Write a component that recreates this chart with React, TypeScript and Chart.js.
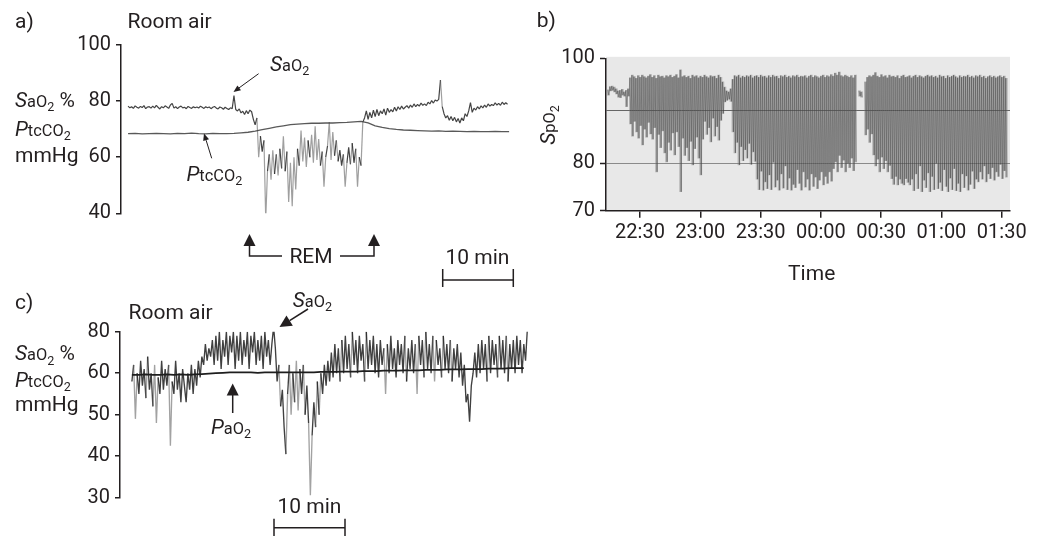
import React, { useEffect, useRef } from 'react';
import { Chart, registerables } from 'chart.js';

Chart.register(...registerables);

// ---------- Panel a (room air, SaO2 and PtcCO2) ----------
const aSaO2Step = 0.25; // minutes between samples
const aSaO2 = [
  78.2, 77.6, 78.0, 77.4, 78.3, 77.8, 77.5, 78.1, 77.7, 78.4, 77.3, 77.9, 78.0, 77.5, 78.2, 77.6, 78.5, 77.8, 77.2, 78.0,
  77.6, 78.3, 77.9, 77.4, 78.6, 79.2, 77.5, 78.0, 77.3, 77.9, 78.2, 77.6, 77.8, 77.3, 78.1, 77.7, 77.4, 78.0, 77.6, 77.9,
  77.5, 78.2, 77.8, 77.4, 78.0, 77.6, 77.9, 77.3, 77.8, 78.1, 77.5, 77.2, 77.9, 77.6, 77.1, 77.8, 77.4, 77.0, 77.6, 77.3,
  82.0, 77.0, 76.5, 77.2, 75.8, 76.4, 75.2, 76.6, 75.5, 76.8, 76.2,
  73.5, 71.5, 74.0, 60.0, 67.5, 62.0, 66.0, 38.0, 55.0, 61.0,
  52.0, 62.5, 54.0, 61.0, 53.5, 63.0, 56.0, 67.5, 55.0, 62.0,
  44.0, 58.0, 42.5, 60.0, 48.5, 63.0, 57.0, 69.5, 58.5, 67.0,
  56.5, 66.0, 60.0, 68.0, 58.0, 71.0, 59.0, 66.5, 57.0, 62.0,
  49.5, 60.0, 64.0, 72.5, 59.0, 69.0, 60.5, 66.0, 58.5, 62.5,
  57.0, 61.0, 49.5, 58.0, 63.5, 57.5, 65.0, 58.0, 63.0, 49.5,
  60.0, 57.0, 72.5,
  74.0, 76.5, 73.5, 76.0, 74.0, 76.8, 74.5, 77.0, 74.8, 76.5,
  75.5, 77.2, 75.0, 77.5, 76.0, 77.0, 76.2, 77.8, 76.5, 78.0,
  77.0, 78.2, 77.2, 77.8, 78.4, 77.5, 78.6, 77.8, 79.0, 78.0,
  78.8, 78.2, 79.3, 78.5, 79.0, 78.4, 79.6, 79.0, 80.2, 79.3,
  80.4, 80.0, 80.6, 87.5, 78.0, 75.5, 74.0, 74.8, 73.2, 74.5,
  73.0, 74.2, 72.6, 73.8, 72.2, 74.0, 73.0, 75.5, 74.5, 76.5,
  79.5, 76.0, 77.5, 76.8, 78.0, 77.2, 78.3, 77.6, 78.6, 77.8,
  79.0, 78.2, 78.8, 78.4, 79.4, 78.6, 79.2, 78.5, 79.6, 78.8,
  79.4, 78.9,
];
const aPtcCO2Step = 1;
const aPtcCO2 = [
  68.4, 68.5, 68.3, 68.4, 68.5, 68.4, 68.3, 68.5, 68.4, 68.6,
  68.4, 68.3, 68.5, 68.4, 68.4, 68.5, 68.7, 68.9, 69.3, 69.8,
  70.3, 70.8, 71.2, 71.6, 71.8, 72.0, 72.1, 72.1, 72.2, 72.2,
  72.3, 72.4, 72.6, 72.8, 72.2, 71.2, 70.6, 70.2, 69.9, 69.7,
  69.6, 69.5, 69.4, 69.3, 69.4, 69.2, 69.3, 69.2, 69.1, 69.2,
  69.1, 69.1, 69.2, 69.1, 69.1,
];
const aYTicks = [40, 60, 80, 100];
const aYTickLabels = ['40', '60', '80', '100'];

// ---------- Panel b (overnight SpO2) ----------
const bStartMin = 14; // minutes after 22:00 of first sample, one high/low pair per minute
const bSpO2High = [
  94.0, 94.6, 94.7, 94.5, 94.2, 93.8, 93.9, 94.1, 93.6, 93.9,
  94.2, 96.3, 96.8, 96.5, 96.2, 96.7, 96.4, 96.8, 96.5, 96.3,
  96.6, 96.9, 96.4, 96.7, 96.2, 96.8, 96.5, 96.6, 96.3, 96.7,
  96.5, 96.8, 96.4, 96.6, 96.9, 96.3, 97.8, 96.5, 96.7, 96.4,
  96.6, 96.2, 96.8, 96.5, 96.7, 96.3, 96.6, 96.4, 96.8, 96.5,
  96.3, 96.7, 96.5, 96.6, 96.2, 96.8, 96.4, 95.5, 94.5, 93.8,
  93.6, 94.2, 96.0, 96.7, 96.5, 96.8, 96.3, 96.6, 96.4, 96.7,
  96.5, 96.8, 96.3, 96.6, 96.7, 96.4, 96.8, 96.5, 96.6, 96.3,
  96.7, 96.4, 96.8, 96.5, 96.6, 96.2, 96.7, 96.5, 96.8, 96.4,
  96.6, 96.3, 96.7, 96.5, 96.8, 96.4, 96.6, 96.5, 96.7, 96.3,
  96.6, 96.8, 96.4, 96.7, 96.5, 96.3, 96.6, 96.8, 96.4, 96.7,
  96.5, 96.9, 96.6, 97.2, 96.8, 97.4, 96.7, 96.5, 96.8, 96.6,
  96.4, 96.7, 96.3, 96.8, null, 93.8, 93.6, null, 95.5, 96.4,
  96.7, 96.5, 96.8, 97.3, 96.6, 96.4, 96.9, 96.5, 96.7, 96.3,
  96.8, 96.5, 96.6, 96.4, 96.7, 96.2, 96.6, 96.8, 96.4, 96.5,
  96.7, 96.3, 96.6, 96.8, 96.4, 96.7, 96.5, 96.3, 96.6, 96.8,
  96.5, 96.7, 96.4, 96.6, 96.3, 96.8, 96.5, 96.6, 96.2, 96.7,
  96.4, 96.6, 96.8, 96.5, 96.3, 96.7, 96.4, 96.6, 96.5, 96.8,
  96.4, 96.6, 96.3, 96.7, 96.5, 96.8, 96.4, 96.6, 96.2, 96.5,
  96.7, 96.4, 96.6, 96.3, 96.5, 96.7, 96.4, 96.6, 96.2,
];
const bSpO2Low = [
  93.0, 93.8, 93.9, 93.6, 93.2, 92.6, 92.5, 93.0, 92.8, 90.8,
  92.8, 87.5, 85.2, 88.0, 86.0, 84.8, 87.2, 83.5, 86.5, 85.0,
  87.8, 85.6, 84.6, 86.8, 78.4, 85.5, 83.0, 86.2, 82.0, 80.3,
  84.0, 82.5, 85.8, 81.6, 86.0, 83.2, 74.6, 84.8, 81.5, 83.0,
  80.5, 84.2, 79.7, 82.8, 85.0, 81.0, 77.8, 84.6, 88.0, 85.5,
  86.8, 84.1, 88.6, 85.2, 87.0, 84.4, 88.2, 89.5, 91.7, 92.0,
  92.2, 91.8, 86.0, 82.0, 84.0, 79.7, 83.2, 80.5, 82.6, 81.0,
  83.8, 79.8, 82.2, 80.4, 77.0, 75.0, 78.5, 74.9, 76.5, 75.2,
  77.8, 75.0, 80.2, 75.5, 76.8, 74.9, 78.0, 75.3, 79.5, 75.0,
  77.2, 74.9, 76.0, 75.4, 78.8, 76.2, 74.9, 78.4, 75.5, 77.0,
  74.9, 78.0, 75.6, 77.4, 75.2, 76.8, 78.4, 75.9, 77.5, 76.2,
  78.4, 76.6, 79.0, 80.3, 78.4, 81.5, 79.2, 80.6, 78.4, 80.0,
  79.2, 81.0, 78.6, 80.3, null, 92.8, 92.6, null, 85.4, 86.5,
  84.0, 85.6, 81.6, 79.5, 80.8, 78.4, 81.2, 79.0, 80.5, 78.4,
  79.6, 77.1, 76.0, 77.5, 75.9, 77.0, 76.2, 75.9, 77.1, 76.4,
  75.9, 77.0, 74.8, 78.0, 75.2, 79.5, 74.6, 76.8, 75.4, 78.2,
  74.6, 77.5, 75.0, 80.0, 75.2, 76.4, 74.8, 78.8, 75.6, 74.6,
  77.2, 75.0, 79.0, 74.8, 76.2, 74.6, 78.0, 75.4, 77.6, 74.9,
  76.0, 78.5, 75.2, 77.0, 76.5, 78.4, 77.0, 79.5, 76.5, 78.0,
  77.1, 79.2, 76.8, 78.4, 77.5, 79.8, 77.1, 78.6, 77.4,
];
const bXTicks = [30, 60, 90, 120, 150, 180, 210];
const bXTickLabels = ['22:30', '23:00', '23:30', '00:00', '00:30', '01:00', '01:30'];
const bYTicks = [71, 80, 90, 100];
const bYTickLabels = ['70', '80', '', '100'];

// ---------- Panel c (room air, SaO2 and PaO2) ----------
const cSaO2Step = 0.25;
const cSaO2 = [
  58, 62, 49, 60, 55, 63, 57, 61, 54, 64, 56, 60, 52, 62, 48, 59, 55, 63, 56, 61,
  57, 62, 42.5, 58, 55, 63, 56, 60, 53, 61, 57, 53, 60, 56, 62, 55, 61, 57, 63, 59,
  64, 62, 67, 63, 66, 64, 68, 62, 69, 63, 70, 61, 68, 64, 70, 62, 69, 65, 70, 61,
  69, 63, 70, 62, 68, 64, 70, 61, 69, 65, 70, 62, 68, 63, 69, 61, 70, 64, 68, 62,
  67, 71.2, 66, 58, 62, 52, 56, 47, 40.5, 55, 62, 50, 60, 53, 63, 51, 61, 55, 62, 50,
  57, 48, 30.6, 45, 53, 47, 58, 50, 60, 55, 62, 57, 63, 58, 65, 59, 67, 60, 66, 58,
  68, 60, 69, 61, 67, 59, 70, 62, 68, 60, 69, 63, 67, 58, 70, 61, 68, 62, 69, 60,
  67, 59, 68, 62, 66, 55, 67, 60, 69, 61, 66, 59, 68, 62, 67, 60, 69, 58, 66, 61,
  68, 60, 67, 55, 69, 62, 68, 59, 70, 61, 67, 60, 69, 58, 68, 62, 66, 59, 69, 61,
  67, 60, 68, 58, 66, 61, 67, 59, 65, 57, 62, 53, 55, 48.3, 57, 60, 65, 59, 67, 60,
  68, 61, 67, 58, 69, 60, 68, 62, 67, 59, 69, 61, 68, 60, 69, 58, 67, 61, 68, 60,
  69, 62, 68, 60, 67, 63, 70.4,
];
const cPaO2Step = 1;
const cPaO2 = [
  59.6, 59.6, 59.7, 59.6, 59.6, 59.7, 59.6, 59.7, 59.6, 59.7,
  59.8, 59.9, 60.0, 60.1, 60.2, 60.2, 60.2, 60.2, 60.1, 60.2,
  60.2, 60.2, 60.2, 60.2, 60.2, 60.2, 60.2, 60.3, 60.3, 60.3,
  60.4, 60.4, 60.4, 60.5, 60.5, 60.5, 60.6, 60.6, 60.6, 60.7,
  60.7, 60.7, 60.8, 60.8, 60.8, 60.9, 60.9, 60.9, 61.0, 61.0,
  61.0, 61.1, 61.1, 61.1, 61.2, 61.2, 61.2,
];
const cYTicks = [30, 40, 50, 60, 70];
const cYTickLabels = ['30', '40', '50', '60', '80'];

// ---------- helpers ----------
const INK = '#231f20';
const FONT = 'Roboto, "Noto Sans", Arial, sans-serif';

const series = (vals: (number | null)[], step: number, start = 0) =>
  vals.map((v, i) => ({ x: start + i * step, y: v }));

const bZigzag = (() => {
  const pts: { x: number; y: number | null }[] = [];
  bSpO2High.forEach((h, i) => {
    pts.push({ x: bStartMin + i, y: h });
    pts.push({ x: bStartMin + i + 0.5, y: bSpO2Low[i] });
  });
  return pts;
})();
const bRanges = bSpO2High.map((h, i) => ({
  x: bStartMin + i + 0.25,
  y: h == null || bSpO2Low[i] == null ? null : [bSpO2Low[i] as number, h],
}));

// fast pen movements leave a lighter trace
const penSegment = (limit: number, light: string) => ({
  borderColor: (ctx: any) => (Math.abs(ctx.p1.parsed.y - ctx.p0.parsed.y) > limit ? light : undefined),
});

const yAxis = (min: number, max: number, ticks: number[], labels: string[], width: number) => ({
  type: 'linear',
  position: 'left',
  min,
  max,
  afterBuildTicks: (s: any) => {
    s.ticks = ticks.map((v) => ({ value: v }));
  },
  afterFit: (s: any) => {
    s.width = width;
  },
  ticks: {
    callback: (_v: any, i: number) => labels[i],
    font: { family: FONT, size: 20 },
    color: INK,
    padding: 5,
    autoSkip: false,
    maxRotation: 0,
  },
  grid: { drawOnChartArea: false, tickLength: 5, color: INK, lineWidth: 1.5 },
  border: { display: true, color: INK, width: 1.5 },
});

const baseOpts = {
  responsive: false,
  maintainAspectRatio: false,
  animation: false,
  events: [],
  plugins: { legend: { display: false }, tooltip: { enabled: false } },
  elements: { point: { radius: 0 }, line: { tension: 0, borderJoinStyle: 'bevel' } },
};

const bgPlugin = {
  id: 'plotBg',
  beforeDraw(chart: any) {
    const { ctx, chartArea: a } = chart;
    ctx.save();
    ctx.fillStyle = '#e8e8e8';
    ctx.fillRect(a.left, a.top - 1.5, a.right - a.left, a.bottom - a.top + 1.5);
    ctx.restore();
  },
};

const Sm = ({ children }: any) => <span style={{ fontSize: '0.78em' }}>{children}</span>;
const Sub = ({ children }: any) => (
  <span style={{ fontSize: '0.6em', position: 'relative', top: '0.35em' }}>{children}</span>
);
const SaO2 = () => (<><i>S</i><Sm>aO</Sm><Sub>2</Sub></>);
const PtcCO2 = () => (<><i>P</i><Sm>tcCO</Sm><Sub>2</Sub></>);
const PaO2 = () => (<><i>P</i><Sm>aO</Sm><Sub>2</Sub></>);
const SpO2 = () => (<><i>S</i><Sm>pO</Sm><Sub>2</Sub></>);

const T = ({ x, y, size = 21, center = false, rotate = false, children }: any) => (
  <div
    style={{
      position: 'absolute',
      left: x,
      top: y,
      transform: `translate(${center ? '-50%' : '0'}, -50%)${rotate ? ' rotate(-90deg)' : ''}`,
      fontSize: size,
      lineHeight: 1,
      whiteSpace: 'nowrap',
      color: INK,
      fontFamily: FONT,
    }}
  >
    {children}
  </div>
);

export default function App() {
  const aRef = useRef<HTMLCanvasElement>(null);
  const bRef = useRef<HTMLCanvasElement>(null);
  const cRef = useRef<HTMLCanvasElement>(null);

  useEffect(() => {
    const charts: Chart[] = [];

    charts.push(
      new Chart(aRef.current as HTMLCanvasElement, {
        type: 'line',
        data: {
          datasets: [
            { data: series(aPtcCO2, aPtcCO2Step), borderColor: 'rgba(60,60,60,0.85)', borderWidth: 1.3 },
            {
              data: series(aSaO2, aSaO2Step),
              borderColor: 'rgba(35,35,35,0.85)',
              borderWidth: 1.2,
              segment: penSegment(7, 'rgba(95,95,95,0.6)'),
            },
          ],
        },
        options: {
          ...baseOpts,
          layout: { padding: { left: 0, top: 45, right: 10.7, bottom: 26.7 } },
          scales: {
            x: { type: 'linear', display: false, min: -1, max: 54 },
            y: yAxis(40, 100, aYTicks, aYTickLabels, 121),
          },
        } as any,
      })
    );

    const bY: any = yAxis(71, 100, bYTicks, bYTickLabels, 86);
    bY.grid = {
      drawOnChartArea: true,
      tickLength: 6,
      lineWidth: 1,
      tickWidth: 1.5,
      color: (ctx: any) =>
        ctx.tick && ctx.tick.value === 90 ? '#666666' : ctx.tick && ctx.tick.value === 80 ? '#8a8a8a' : 'rgba(0,0,0,0)',
      tickColor: (ctx: any) => (ctx.tick && ctx.tick.value === 90 ? 'rgba(0,0,0,0)' : INK),
    };
    charts.push(
      new Chart(bRef.current as HTMLCanvasElement, {
        type: 'line',
        data: {
          datasets: [
            {
              type: 'line',
              data: bZigzag,
              borderColor: 'rgba(45,45,45,0.42)',
              borderWidth: 0.8,
              spanGaps: false,
              order: 0,
            },
            {
              type: 'bar',
              data: bRanges,
              backgroundColor: 'rgba(115,115,115,0.45)',
              borderWidth: 0,
              barThickness: 2.05,
              grouped: false,
              order: 1,
            },
          ] as any,
        },
        options: {
          ...baseOpts,
          layout: { padding: { left: 0, top: 58.3, right: 31, bottom: 49.3 } },
          scales: {
            x: {
              type: 'linear',
              offset: false,
              min: 13.1,
              max: 214.1,
              afterBuildTicks: (s: any) => {
                s.ticks = bXTicks.map((v) => ({ value: v }));
              },
              afterFit: (s: any) => {
                s.height = 40;
              },
              ticks: {
                callback: (_v: any, i: number) => bXTickLabels[i],
                font: { family: FONT, size: 20 },
                color: INK,
                padding: 3,
                autoSkip: false,
                maxRotation: 0,
              },
              grid: { drawOnChartArea: false, offset: false, tickLength: 7, color: INK, lineWidth: 1.5 },
              border: { display: true, color: INK, width: 1.5 },
            },
            y: bY,
          },
        } as any,
        plugins: [bgPlugin],
      })
    );

    charts.push(
      new Chart(cRef.current as HTMLCanvasElement, {
        type: 'line',
        data: {
          datasets: [
            { data: series(cPaO2, cPaO2Step), borderColor: '#1e1e1e', borderWidth: 1.8 },
            {
              data: series(cSaO2, cSaO2Step),
              borderColor: 'rgba(30,30,30,0.85)',
              borderWidth: 1.35,
              segment: penSegment(9, 'rgba(100,100,100,0.6)'),
            },
          ],
        },
        options: {
          ...baseOpts,
          layout: { padding: { left: 0, top: 31.7, right: 12, bottom: 38.3 } },
          scales: {
            x: { type: 'linear', display: false, min: -1.7, max: 56.6 },
            y: yAxis(30, 70, cYTicks, cYTickLabels, 120),
          },
        } as any,
      })
    );

    return () => charts.forEach((c) => c.destroy());
  }, []);

  return (
    <div
      style={{
        position: 'absolute',
        left: 0,
        top: 0,
        width: 1041,
        height: 536,
        background: '#fff',
        overflow: 'hidden',
        fontFamily: FONT,
        color: INK,
      }}
    >
      <canvas ref={aRef} width={520} height={240} style={{ position: 'absolute', left: 0, top: 0, width: 520, height: 240 }} />
      <canvas ref={bRef} width={521} height={300} style={{ position: 'absolute', left: 520, top: 0, width: 521, height: 300 }} />
      <canvas ref={cRef} width={540} height={236} style={{ position: 'absolute', left: 0, top: 300, width: 540, height: 236 }} />

      <svg width={1041} height={536} style={{ position: 'absolute', left: 0, top: 0, pointerEvents: 'none' }}>
        <g stroke={INK} fill="none" strokeWidth={1}>
          <line x1={258.6} y1={73.7} x2={238.5} y2={88.3} />
          <line x1={211.7} y1={158.3} x2={206.1} y2={140.2} />
        </g>
        <g fill={INK} stroke="none">
          <polygon points="233.5,92 241.0,90.3 237.4,85.5" />
          <polygon points="204,133.5 209.0,139.3 203.2,141.1" />
        </g>
        <g stroke={INK} fill="none" strokeWidth={1.5}>
          <polyline points="249.5,245 249.5,256 282,256" />
          <polyline points="340,256 374,256 374,245" />
          <path d="M442.7,280 H513.3 M442.7,269 V287 M513.3,269 V287" />
          <line x1={308} y1={309} x2={289.6} y2={320.6} />
          <line x1={232.7} y1={413} x2={232.7} y2={395} />
          <path d="M274,527.7 H345 M274,518.7 V536 M345,518.7 V536" />
        </g>
        <g fill={INK} stroke="none">
          <polygon points="249.5,234 243.5,246 255.5,246" />
          <polygon points="374,234 368,246 380,246" />
          <polygon points="279.5,327 292.85,325.7 286.45,315.5" />
          <polygon points="232.7,383.5 226.7,395.5 238.7,395.5" />
        </g>
      </svg>

      {/* Panel a texts */}
      <T x={15} y={21}>a)</T>
      <T x={127.5} y={20.5}>Room air</T>
      <T x={15} y={100}><SaO2 /> %</T>
      <T x={15} y={129}><PtcCO2 /></T>
      <T x={15} y={155}>mmHg</T>
      <T x={270} y={64}><SaO2 /></T>
      <T x={186.5} y={174}><PtcCO2 /></T>
      <T x={311} y={256} center>REM</T>
      <T x={477.5} y={256.7} center>10 min</T>

      {/* Panel b texts */}
      <T x={536.7} y={20}>b)</T>
      <T x={548} y={125} center rotate><SpO2 /></T>
      <T x={811.7} y={273} center>Time</T>

      {/* Panel c texts */}
      <T x={15} y={302}>c)</T>
      <T x={128.5} y={312}>Room air</T>
      <T x={15} y={353.3}><SaO2 /> %</T>
      <T x={15} y={379.5}><PtcCO2 /></T>
      <T x={15} y={404}>mmHg</T>
      <T x={292.7} y={300}><SaO2 /></T>
      <T x={211} y={427}><PaO2 /></T>
      <T x={309.5} y={506} center>10 min</T>
    </div>
  );
}
